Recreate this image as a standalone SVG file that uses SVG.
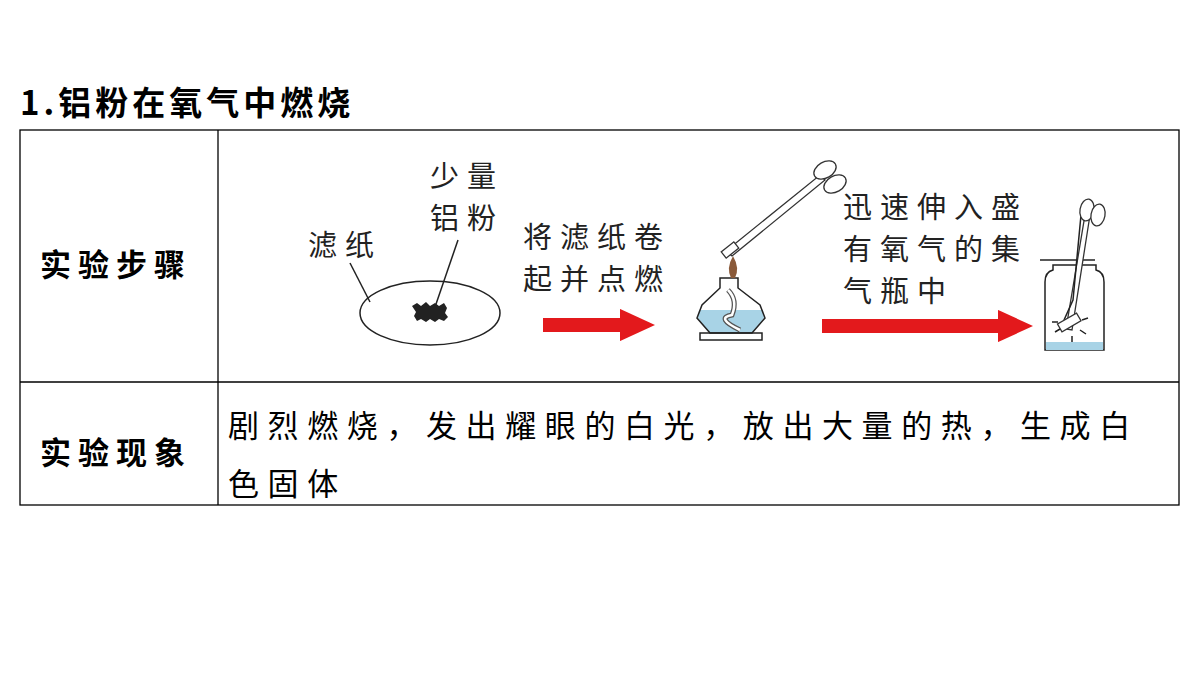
<svg xmlns="http://www.w3.org/2000/svg" width="1200" height="675" viewBox="0 0 1200 675">
<style>
.b{font-family:"Noto Sans CJK SC",sans-serif;font-weight:bold;font-size:31px;fill:#000;letter-spacing:7px}
.s{font-family:"Noto Sans CJK SC",sans-serif;font-size:31px;fill:#000;letter-spacing:8.6px}
.p{font-family:"Noto Sans CJK SC",sans-serif;font-size:29px;fill:#222;letter-spacing:8px}
.l{stroke:#222;stroke-width:1.5;fill:none}
.t{stroke:#333;stroke-width:1.3;fill:#fff}
</style>
<defs><marker id="h" markerWidth="2.5" markerHeight="2.3" refX="0" refY="1.15" orient="auto"><path d="M0,0L2.5,1.15L0,2.3Z" fill="#e3191c"/></marker></defs>
<rect width="1200" height="675" fill="#fff"/>
<text class="b" x="20" y="115" style="font-size:33px;letter-spacing:4px">1.铝粉在氧气中燃烧</text>
<g id="table" fill="none" stroke="#000" stroke-width="1.3">
<rect x="20" y="130" width="1159" height="375"/>
<line x1="218" y1="130" x2="218" y2="505"/>
<line x1="20" y1="382" x2="1179" y2="382"/>
</g>
<text class="b" x="40" y="276">实验步骤</text>
<text class="b" x="40" y="464">实验现象</text>
<text class="s" x="228" y="437">剧烈燃烧，发出耀眼的白光，放出大量的热，生成白</text>
<text class="s" x="228" y="495">色固体</text>
<g id="paper">
<ellipse cx="430" cy="313" rx="70" ry="32" class="l" stroke-width="1.2"/>
<path d="M412,306 l5,-3 l4,3 l5,-4 l4,4 l5,-3 l4,3 l5,-3 l3,5 l-2,5 l3,4 l-4,4 l-5,-2 l-4,3 l-5,-3 l-4,3 l-5,-3 l-4,2 l-3,-5 l2,-4 Z" fill="#222"/>
<line x1="350" y1="263" x2="370" y2="302" class="l"/>
<line x1="458" y1="240" x2="435" y2="307" class="l"/>
<text class="p" x="308" y="256">滤纸</text>
<text class="p" x="430" y="187">少量</text>
<text class="p" x="430" y="229">铝粉</text>
</g>
<g id="connectors">
<line x1="543" y1="325" x2="620" y2="325" stroke="#e3191c" stroke-width="14" marker-end="url(#h)"/>
<line x1="822" y1="326" x2="998" y2="326" stroke="#e3191c" stroke-width="14" marker-end="url(#h)"/>
</g>
<text class="p" x="523" y="248">将滤纸卷</text>
<text class="p" x="523" y="290">起并点燃</text>
<text class="p" x="843" y="218">迅速伸入盛</text>
<text class="p" x="843" y="260">有氧气的集</text>
<text class="p" x="843" y="302">气瓶中</text>
<g id="lamp">
<path d="M699,310 L763,310 L764,318 L752,333 L710,333 L698,318 Z" fill="#a8d3e6"/>
<path d="M697,318 L702,305 L720,288 L720,278 L738,278 L738,288 L760,305 L765,318 L752,333 L710,333 Z" class="l" stroke-width="1.3"/>
<rect x="700" y="333" width="62" height="7" class="l" stroke-width="1.3"/>
<path d="M728,290 Q738,300 732,315 Q715,318 740,330" stroke="#555" stroke-width="5" fill="none"/>
<path d="M728,290 Q738,300 732,315 Q715,318 740,330" stroke="#fff" stroke-width="2.5" fill="none"/>
<path d="M731,278 Q726,268 733,256 Q740,268 735,278 Z" fill="#8a5a3a"/>
<path d="M726,251 L820,175 L825,180 L732,256 Z" class="t"/>
<rect x="722" y="246" width="16" height="8" transform="rotate(-38 730 250)" class="t"/>
<ellipse cx="825" cy="170" rx="12" ry="8" transform="rotate(-30 825 170)" class="t"/>
<ellipse cx="835" cy="184" rx="12" ry="8" transform="rotate(-30 835 184)" class="t"/>
</g>
<g id="jar">
<line x1="1040" y1="260" x2="1095" y2="260" class="l" stroke-width="3" stroke="#555"/>
<path d="M1053,265 L1096,265 L1096,270 Q1104,272 1104,282 L1104,350 L1045,350 L1045,282 Q1045,272 1053,270 Z" class="l" stroke-width="1.3" fill="#fff"/>
<rect x="1046" y="342" width="57" height="8" fill="#a8d3e6"/>
<path d="M1085,215 L1090,215 L1072,330 L1066,329 Z" class="t"/>
<path d="M1081,215 L1073,300 L1064,320" class="l" stroke-width="1.2"/>
<rect x="1058" y="318" width="22" height="9" transform="rotate(-30 1069 322)" class="t"/>
<ellipse cx="1087" cy="210" rx="7" ry="11" transform="rotate(10 1087 210)" class="t"/>
<ellipse cx="1098" cy="215" rx="7" ry="11" transform="rotate(10 1098 215)" class="t"/>
<path d="M1052,322 L1058,322 M1055,332 L1060,329 M1082,320 L1088,318 M1080,330 L1086,334 M1072,336 L1072,342" class="l" stroke-width="1"/>
</g>
</svg>
